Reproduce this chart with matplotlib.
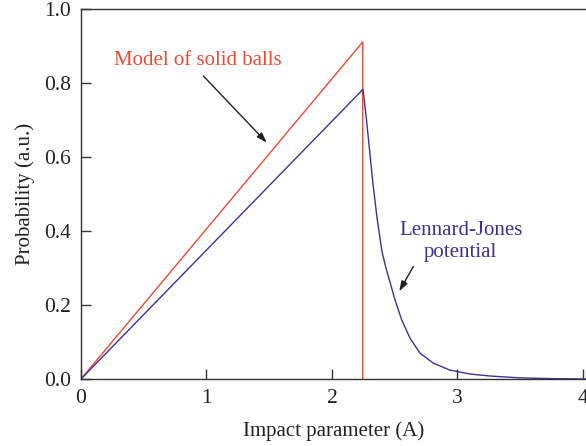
import matplotlib
matplotlib.use("Agg")
import matplotlib.pyplot as plt

# Solid-ball model: linear rise, then sharp cutoff
solid_x = [0.0, 2.245, 2.245]
solid_y = [0.0, 0.911, 0.0]

# Lennard-Jones potential: linear rise, then smooth decay
lj_x = [0.0, 2.247, 2.273, 2.300, 2.327, 2.359, 2.398, 2.430, 2.462, 2.502,
        2.555, 2.622, 2.701, 2.807, 2.940, 3.10, 3.26, 3.50, 3.76, 4.02]
lj_y = [0.0, 0.783, 0.707, 0.616, 0.526, 0.435, 0.345, 0.300, 0.262, 0.214,
        0.160, 0.110, 0.070, 0.043, 0.024, 0.0135, 0.008, 0.003, 0.001, 0.0]

x_ticks = [0, 1, 2, 3, 4]
y_ticks = [0.0, 0.2, 0.4, 0.6, 0.8, 1.0]
y_tick_labels = ["0.0", "0.2", "0.4", "0.6", "0.8", "1.0"]

RED = "#ee4a33"
BLUE = "#3d3199"
AXIS = "#333333"

plt.rcParams["font.family"] = ["Liberation Serif", "DejaVu Serif"]

fig = plt.figure(figsize=(5.86, 4.46), dpi=100)
ax = fig.add_axes([81 / 586, 1 - 379 / 446, 1 - 81 / 586, 370 / 446])

ax.plot(solid_x, solid_y, color=RED, lw=1.0)
ax.plot(lj_x, lj_y, color=BLUE, lw=1.0, solid_joinstyle="round")

ax.set_xlim(0, 4.024)
ax.set_ylim(0, 1.0)
ax.set_xticks(x_ticks)
ax.set_yticks(y_ticks)
ax.set_yticklabels(y_tick_labels)

for side in ["left", "bottom", "top"]:
    ax.spines[side].set_color(AXIS)
    ax.spines[side].set_linewidth(1.0)
ax.spines["right"].set_visible(False)

ax.tick_params(direction="in", length=7, width=1.0, color=AXIS,
               labelsize=15.5, labelcolor="#222222")
ax.tick_params(axis="x", pad=7)
ax.tick_params(axis="y", pad=7)

ax.set_xlabel("Impact parameter (A)", fontsize=15, color="#222222", labelpad=10)
ax.set_ylabel("Probability (a.u.)", fontsize=15, color="#222222", labelpad=7)

ax.text(0.932, 0.862, "Model of solid balls", color=RED, fontsize=15,
        ha="center", va="center")
ax.annotate("", xy=(1.48, 0.639), xytext=(0.975, 0.819),
            arrowprops=dict(arrowstyle="-|>,head_length=0.6,head_width=0.2",
                            color="#222222", lw=1.0, shrinkA=0, shrinkB=0))

ax.text(3.025, 0.371, "Lennard-Jones\npotential", color=BLUE, fontsize=15,
        ha="center", va="center", linespacing=1.25)
ax.annotate("", xy=(2.536, 0.237), xytext=(2.648, 0.304),
            arrowprops=dict(arrowstyle="-|>,head_length=0.6,head_width=0.2",
                            color="#222222", lw=1.0, shrinkA=0, shrinkB=0))

fig.savefig("out.png", dpi=100)
